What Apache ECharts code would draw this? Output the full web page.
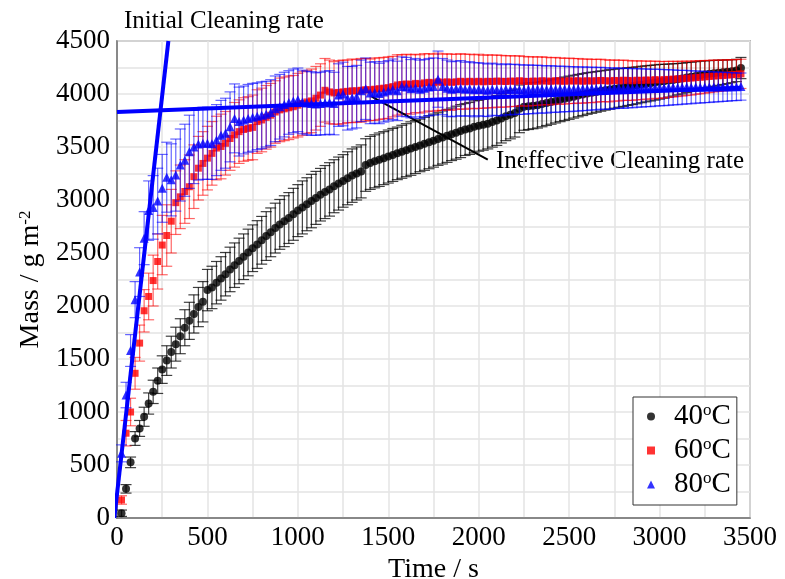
<!DOCTYPE html>
<html><head><meta charset="utf-8">
<script src="https://cdn.jsdelivr.net/npm/echarts@6/dist/echarts.min.js"></script>
<style>html,body{margin:0;padding:0;background:#fff}#c{width:785px;height:579px}</style>
</head><body><div id="c"></div>
<script>
// ---- data ----
const times = [
  25,50,75,100,125,150,175,200,225,250,275,300,325,350,375,400,425,450,475,500,
  525,550,575,600,625,650,675,700,725,750,775,800,825,850,875,900,925,950,975,1000,
  1025,1050,1075,1100,1125,1150,1175,1200,1225,1250,1275,1300,1325,1350,1375,1400,1425,1450,1475,1500,
  1525,1550,1575,1600,1625,1650,1675,1700,1725,1750,1775,1800,1825,1850,1875,1900,1925,1950,1975,2000,
  2025,2050,2075,2100,2125,2150,2175,2200,2225,2250,2275,2300,2325,2350,2375,2400,2425,2450,2475,2500,
  2525,2550,2575,2600,2625,2650,2675,2700,2725,2750,2775,2800,2825,2850,2875,2900,2925,2950,2975,3000,
  3025,3050,3075,3100,3125,3150,3175,3200,3225,3250,3275,3300,3325,3350,3375,3400,3425,3450
];
const mass40 = [
  45,275,525,750,845,955,1080,1190,1295,1400,1485,1565,1640,1715,1795,1860,1925,1990,2040,2150,
  2175,2220,2260,2300,2345,2385,2425,2465,2505,2545,2580,2620,2660,2695,2735,2770,2800,2830,2865,2900,
  2930,2960,2990,3020,3050,3075,3100,3130,3155,3180,3205,3230,3250,3270,3330,3350,3365,3380,3395,3410,
  3425,3440,3455,3470,3485,3500,3515,3530,3545,3560,3575,3590,3605,3620,3635,3650,3665,3675,3690,3700,
  3710,3720,3735,3750,3770,3790,3805,3820,3860,3880,3885,3890,3895,3905,3915,3925,3935,3945,3955,3965,
  3975,3985,3995,4005,4012,4020,4028,4036,4043,4050,4057,4063,4070,4076,4082,4090,4096,4102,4108,4115,
  4120,4127,4133,4140,4146,4155,4162,4170,4178,4185,4190,4195,4200,4205,4210,4215,4222,4245
];
const err40 = [
  30,40,50,65,75,90,100,110,120,130,140,150,160,165,170,175,180,185,190,195,
  200,200,205,205,210,210,215,215,220,220,225,225,230,230,235,235,240,240,245,245,
  250,250,252,250,248,250,252,250,250,248,250,252,250,250,248,250,250,252,250,250,
  250,248,250,250,252,250,248,250,250,250,248,250,250,248,250,250,245,245,245,240,
  240,238,236,235,232,230,228,226,225,222,220,218,216,214,212,210,208,206,205,204,
  202,200,198,196,194,192,190,188,186,184,182,180,178,176,174,172,170,168,166,164,
  160,156,152,148,145,142,138,135,132,128,125,122,118,115,112,108,105,100
];
const mass60 = [
  170,800,1000,1365,1650,1955,2090,2240,2420,2575,2665,2800,2975,3030,3080,3125,3220,3300,3345,3395,
  3440,3490,3505,3535,3580,3615,3645,3665,3675,3685,3740,3755,3780,3800,3830,3850,3860,3870,3880,3895,
  3910,3925,3935,3960,3990,4035,4020,4010,4015,4020,4025,4030,4030,4035,4040,4040,4045,4050,4055,4060,
  4070,4085,4090,4095,4090,4100,4095,4105,4110,4105,4115,4110,4115,4110,4115,4120,4115,4120,4115,4120,
  4115,4120,4118,4122,4120,4118,4122,4120,4125,4120,4118,4122,4120,4125,4122,4120,4125,4122,4120,4125,
  4122,4125,4120,4125,4122,4125,4128,4125,4122,4128,4125,4130,4128,4125,4130,4128,4132,4130,4135,4132,
  4135,4138,4140,4142,4145,4148,4150,4155,4158,4162,4165,4170,4172,4175,4178,4182,4185,4190
];
const err60 = [
  40,120,130,150,170,200,220,240,260,280,290,300,300,300,300,300,300,300,300,300,
  300,300,305,300,300,305,300,300,300,305,300,300,300,300,295,300,300,300,295,300,
  300,295,300,300,295,300,300,295,300,300,295,300,295,300,295,290,295,290,290,290,
  285,285,280,280,280,275,275,275,270,270,270,265,265,265,260,260,260,255,255,255,
  250,250,248,246,244,242,240,238,236,234,232,230,228,226,224,222,220,218,216,214,
  212,210,208,206,204,202,200,198,196,194,192,190,188,186,184,182,180,178,176,174,
  172,170,168,166,164,162,160,158,156,154,152,150,148,146,144,142,140,138
];
const mass80 = [
  610,1160,1580,2060,2320,2640,2900,2930,2990,3110,3215,3190,3235,3330,3375,3455,3500,3528,3535,3535,
  3530,3565,3610,3630,3690,3770,3740,3755,3770,3780,3790,3800,3810,3825,3860,3880,3900,3920,3935,3945,
  3925,3915,3910,3905,3910,3915,3920,3910,3990,4000,3960,3965,3975,4030,4050,4010,4015,4005,4020,4030,
  4045,4030,4070,4065,4050,4060,4045,4055,4065,4070,4140,4070,4055,4045,4050,4055,4045,4050,4040,4045,
  4040,4035,4045,4040,4035,4045,4040,4045,4042,4040,4045,4042,4046,4044,4042,4048,4044,4046,4048,4045,
  4048,4046,4050,4048,4052,4050,4054,4052,4050,4054,4056,4052,4056,4054,4058,4056,4059,4057,4060,4061,
  4060,4061,4063,4061,4063,4065,4063,4066,4064,4067,4065,4067,4066,4068,4067,4069,4068,4070
];
const err80 = [
  80,120,150,170,230,250,280,300,310,320,330,340,340,340,340,345,345,340,340,340,
  335,335,330,330,330,325,325,320,320,320,315,315,310,310,310,305,305,300,300,300,
  300,300,300,295,295,300,300,295,295,300,300,295,295,290,290,290,290,285,285,285,
  285,280,280,280,275,275,275,270,270,270,265,265,265,260,260,260,255,255,255,250,
  250,248,246,244,242,240,238,236,234,232,230,228,226,224,222,220,218,216,214,212,
  210,208,206,204,202,200,198,196,194,192,190,188,186,184,182,180,178,176,174,172,
  170,168,165,162,160,158,155,152,150,148,145,142,140,138,135,132,130,128
];
const seriesNames = ['40', '60', '80'];
const initialRateLine = [[-15, 0], [284, 4500]];
const ineffectiveRateLine = [[0, 3830], [3450, 4058]];
const connectorLine = [[1408, 3975], [2050, 3380]];

// ---- build ----
const FONT = 'Liberation Serif';
function pts(vals) { return times.map((t, i) => [t, vals[i]]); }
function errs(vals, e) { return times.map((t, i) => [t, vals[i], e[i]]); }
function errRender(color, cap) {
  return function (params, api) {
    const t = api.value(0), m = api.value(1), e = api.value(2);
    const hi = api.coord([t, m + e]), lo = api.coord([t, m - e]);
    const st = { stroke: color, lineWidth: 1.2 };
    return { type: 'group', children: [
      { type: 'line', shape: { x1: hi[0], y1: hi[1], x2: lo[0], y2: lo[1] }, style: st },
      { type: 'line', shape: { x1: hi[0] - cap, y1: hi[1], x2: hi[0] + cap, y2: hi[1] }, style: st },
      { type: 'line', shape: { x1: lo[0] - cap, y1: lo[1], x2: lo[0] + cap, y2: lo[1] }, style: st }
    ]};
  };
}
function errSeries(vals, e, color, z) {
  return { type: 'custom', data: errs(vals, e), encode: { x: 0, y: 1 }, renderItem: errRender(color, 5.5), z: z, silent: true };
}
const plain = v => String(v);
const gridLine = { color: '#e4e4e4', width: 1.5 };
const chart = echarts.init(document.getElementById('c'), null, { renderer: 'canvas' });
chart.setOption({
  animation: false,
  backgroundColor: '#fff',
  grid: { left: 117, right: 35, top: 41, bottom: 61, containLabel: false, outerBoundsMode: 'none',
    show: true, borderColor: '#808080', borderWidth: 1.5, backgroundColor: 'transparent' },
  xAxis: {
    type: 'value', min: 0, max: 3500, interval: 500,
    axisLine: { show: true, onZero: false, lineStyle: { color: '#707070', width: 1.5 } },
    axisTick: { show: false },
    axisLabel: { fontFamily: FONT, fontSize: 27, color: '#000', margin: 6, formatter: plain },
    splitLine: { show: true, lineStyle: gridLine },
    minorTick: { show: false, splitNumber: 2 },
    minorSplitLine: { show: true, lineStyle: gridLine },
    name: 'Time / s', nameLocation: 'middle', nameGap: 21,
    nameTextStyle: { fontFamily: FONT, fontSize: 28, color: '#000' }
  },
  yAxis: {
    type: 'value', min: 0, max: 4500, interval: 500,
    axisLine: { show: true, onZero: false, lineStyle: { color: '#707070', width: 1.5 } },
    axisTick: { show: false },
    axisLabel: { fontFamily: FONT, fontSize: 27, color: '#000', margin: 7, formatter: plain },
    splitLine: { show: true, lineStyle: gridLine },
    minorTick: { show: false, splitNumber: 2 },
    minorSplitLine: { show: true, lineStyle: gridLine },
    name: 'Mass / g m{sup|-2}', nameLocation: 'middle', nameGap: 50, nameRotate: 90,
    nameTextStyle: { fontFamily: FONT, fontSize: 28, color: '#000',
      rich: { sup: { fontFamily: FONT, fontSize: 17, color: '#000', verticalAlign: 'top' } } }
  },
  legend: {
    left: 633, top: 397, orient: 'vertical',
    backgroundColor: '#fff', borderColor: '#333', borderWidth: 1, borderRadius: 0,
    padding: [5, 6, 6, 14], itemGap: 5, itemWidth: 8, itemHeight: 8,
    data: seriesNames,
    formatter: n => n + '{sup|o}C',
    textStyle: { fontFamily: FONT, fontSize: 29, color: '#000', padding: [0, 0, 0, 14],
      rich: { sup: { fontFamily: FONT, fontSize: 17, color: '#000', verticalAlign: 'top' } } }
  },
  series: [
    errSeries(mass40, err40, 'rgba(0,0,0,0.75)', 2),
    { name: seriesNames[0], type: 'scatter', data: pts(mass40), symbol: 'circle', symbolSize: 8, itemStyle: { color: '#000' }, z: 3 },
    errSeries(mass60, err60, 'rgba(255,0,0,0.6)', 4),
    { name: seriesNames[1], type: 'scatter', data: pts(mass60), symbol: 'rect', symbolSize: 7, itemStyle: { color: '#ff0000' }, z: 5 },
    errSeries(mass80, err80, 'rgba(0,0,255,0.6)', 6),
    { name: seriesNames[2], type: 'scatter', data: pts(mass80), symbol: 'triangle', symbolSize: 9, itemStyle: { color: '#0000ff' }, z: 7 },
    { type: 'line', data: initialRateLine, showSymbol: false, symbol: 'none', clip: false,
      lineStyle: { color: '#0000ff', width: 4 }, z: 8, silent: true },
    { type: 'line', data: ineffectiveRateLine, showSymbol: false, symbol: 'none',
      lineStyle: { color: '#0000ff', width: 4 }, z: 8, silent: true,
      markLine: { silent: true, symbol: ['none', 'none'], label: { show: false },
        lineStyle: { color: '#000', width: 2, type: 'solid' },
        data: [[{ coord: connectorLine[0] }, { coord: connectorLine[1] }]] } }
  ],
  graphic: [
    { type: 'text', x: 124, y: 21, style: { text: 'Initial Cleaning rate', font: '25px "Liberation Serif"', fill: '#000', verticalAlign: 'middle', align: 'left' } },
    { type: 'text', x: 496, y: 161, style: { text: 'Ineffective Cleaning rate', font: '25px "Liberation Serif"', fill: '#000', verticalAlign: 'middle', align: 'left' } }
  ]
});
</script>
</body></html>
